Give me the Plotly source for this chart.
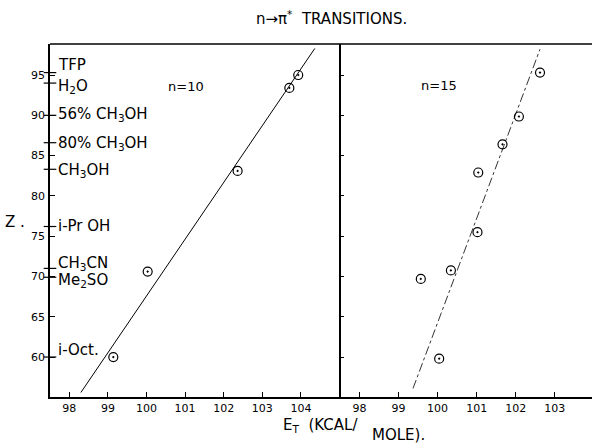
import plotly.graph_objects as go

# ---- data ----
et_n10 = [103.93, 103.70, 102.36, 100.03, 99.14]
z_n10 = [95.0, 93.4, 83.1, 70.6, 60.0]
fit_n10_x = [98.30, 104.36]
fit_n10_z = [55.6, 98.3]

et_n15 = [102.62, 102.08, 101.66, 101.04, 101.02, 100.34, 99.57, 100.04]
z_n15 = [95.3, 89.85, 86.4, 82.9, 75.5, 70.75, 69.7, 59.8]
fit_n15_x = [99.37, 102.62]
fit_n15_z = [56.1, 98.2]

solvents = ["TFP", "H<sub>2</sub>O", "56% CH<sub>3</sub>OH", "80% CH<sub>3</sub>OH",
            "CH<sub>3</sub>OH", "i-Pr OH", "CH<sub>3</sub>CN", "Me<sub>2</sub>SO", "i-Oct."]
solvent_z = [96.2, 93.6, 90.1, 86.5, 83.2, 76.3, 71.6, 69.5, 60.9]
solvent_tick_z = [95.3, 94.0, 90.0, 86.6, 83.3, 76.2, 71.0, 69.9, 60.0]

y_ticks = [60, 65, 70, 75, 80, 85, 90, 95]
x1_ticks = [98, 99, 100, 101, 102, 103, 104]
x2_ticks = [98, 99, 100, 101, 102, 103]

x1_range = [97.5, 105.03]
x2_range = [97.52, 103.95]
y_range = [55.04, 98.85]

FONT = "DejaVu Sans"
split = 0.5363

fig = go.Figure()

marker = dict(symbol="circle-dot", size=9, color="rgba(0,0,0,0)",
              line=dict(color="black", width=1.2))

fig.add_trace(go.Scatter(x=fit_n10_x, y=fit_n10_z, mode="lines",
                         line=dict(color="black", width=1), xaxis="x", yaxis="y",
                         showlegend=False, hoverinfo="skip"))
fig.add_trace(go.Scatter(x=et_n10, y=z_n10, mode="markers", marker=marker,
                         xaxis="x", yaxis="y", showlegend=False))
fig.add_trace(go.Scatter(x=fit_n15_x, y=fit_n15_z, mode="lines",
                         line=dict(color="#333", width=1, dash="dashdot"),
                         xaxis="x2", yaxis="y2", showlegend=False, hoverinfo="skip"))
fig.add_trace(go.Scatter(x=et_n15, y=z_n15, mode="markers", marker=marker,
                         xaxis="x2", yaxis="y2", showlegend=False))

# solvent tick marks on the left axis
fig.add_trace(go.Scatter(x=[x1_range[0]] * len(solvent_tick_z), y=solvent_tick_z,
                         mode="markers", cliponaxis=False,
                         marker=dict(symbol="line-ew", size=9,
                                     line=dict(color="black", width=1.2)),
                         xaxis="x", yaxis="y", showlegend=False, hoverinfo="skip"))

axis_common = dict(showgrid=False, zeroline=False, showline=True, linecolor="black",
                   linewidth=1.5, ticks="inside", ticklen=5, tickwidth=1,
                   tickcolor="black", tickfont=dict(family=FONT, size=11, color="black"))

fig.update_layout(
    width=592, height=446,
    margin=dict(l=50, r=0, t=44, b=49),
    paper_bgcolor="white", plot_bgcolor="white",
    xaxis=dict(domain=[0, split], range=x1_range, tickvals=x1_ticks,
               ticktext=[str(v) for v in x1_ticks], anchor="y", **axis_common),
    xaxis2=dict(domain=[split, 1], range=x2_range, tickvals=x2_ticks,
                ticktext=[str(v) for v in x2_ticks], anchor="y2", **axis_common),
    yaxis=dict(range=y_range, tickvals=y_ticks, ticktext=[str(v) for v in y_ticks],
               anchor="x", ticklabelstandoff=1, **axis_common),
    yaxis2=dict(range=y_range, tickvals=y_ticks, showticklabels=False, anchor="x2",
                matches="y", **{k: v for k, v in axis_common.items() if k != "tickfont"}),
)
fig.update_layout(yaxis2_ticklen=4)

# top border across both panels
fig.add_shape(type="line", xref="paper", yref="paper", x0=0, x1=1, y0=1, y1=1,
              line=dict(color="black", width=1.5))

W, H = 592 - 50, 446 - 44 - 49
def px(xp):
    return (xp - 50) / W
def py(yp):
    return (446 - 49 - yp) / H

def note(x, y, text, size, xanchor="center"):
    fig.add_annotation(x=px(x), y=py(y), xref="paper", yref="paper", text=text,
                       showarrow=False, xanchor=xanchor, yanchor="middle",
                       font=dict(family=FONT, size=size, color="black"))

for name, z in zip(solvents, solvent_z):
    fig.add_annotation(x=x1_range[0], y=z, xref="x", yref="y", text=name, showarrow=False,
                       xanchor="left", yanchor="middle", xshift=6,
                       font=dict(family=FONT, size=15, color="black"))

note(185.5, 86, "n=10", 13)
note(438.5, 85, "n=15", 13)
note(331, 18, "n\u2192\u03c0<sup>*</sup>  TRANSITIONS.", 15)
note(15, 222, "Z .", 15)
note(281, 425, "E<sub>T</sub>  (KCAL/", 15, "left")
note(370, 435, "MOLE).", 15, "left")

fig.write_html("out.html", config={"displayModeBar": False},
               post_script="document.body.style.margin='0';document.body.style.overflow='hidden';")
